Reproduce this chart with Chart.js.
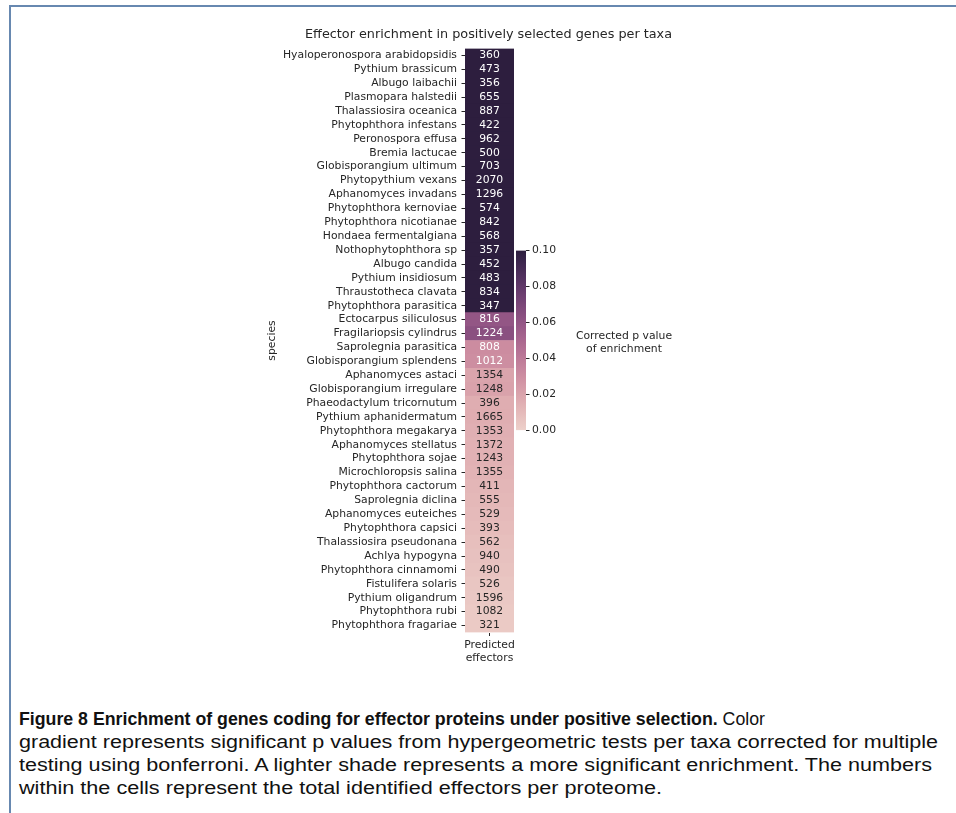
<!DOCTYPE html>
<html><head><meta charset="utf-8">
<script src="https://cdn.jsdelivr.net/npm/chart.js@4/dist/chart.umd.min.js"></script>
<style>
html,body{margin:0;padding:0;background:#fff;width:956px;height:813px;overflow:hidden;}
#frame{position:absolute;left:9px;top:5px;width:980px;height:840px;border-left:2px solid #6788b0;border-top:2px solid #6788b0;box-sizing:border-box;}
.cv{position:absolute;}
.cap{position:absolute;left:19px;font-family:"Liberation Sans",sans-serif;font-size:17.5px;line-height:23px;color:#111;white-space:nowrap;transform-origin:0 50%;}
</style></head><body>
<div id="frame"></div>
<canvas id="main" class="cv" width="956" height="690" style="left:0;top:0"></canvas>
<canvas id="cbar" class="cv" width="200" height="220" style="left:500px;top:230px"></canvas>
<div class="cap" data-w="746" style="top:708px"><b>Figure 8 Enrichment of genes coding for effector proteins under positive selection.</b> Color</div>
<div class="cap" data-w="919" style="top:731px">gradient represents significant p values from hypergeometric tests per taxa corrected for multiple</div>
<div class="cap" data-w="913" style="top:754px">testing using bonferroni. A lighter shade represents a more significant enrichment. The numbers</div>
<div class="cap" data-w="643" style="top:777px">within the cells represent the total identified effectors per proteome.</div>
<script>
const species = [
 "Hyaloperonospora arabidopsidis","Pythium brassicum","Albugo laibachii","Plasmopara halstedii",
 "Thalassiosira oceanica","Phytophthora infestans","Peronospora effusa","Bremia lactucae",
 "Globisporangium ultimum","Phytopythium vexans","Aphanomyces invadans","Phytophthora kernoviae",
 "Phytophthora nicotianae","Hondaea fermentalgiana","Nothophytophthora sp","Albugo candida",
 "Pythium insidiosum","Thraustotheca clavata","Phytophthora parasitica","Ectocarpus siliculosus",
 "Fragilariopsis cylindrus","Saprolegnia parasitica","Globisporangium splendens","Aphanomyces astaci",
 "Globisporangium irregulare","Phaeodactylum tricornutum","Pythium aphanidermatum","Phytophthora megakarya",
 "Aphanomyces stellatus","Phytophthora sojae","Microchloropsis salina","Phytophthora cactorum",
 "Saprolegnia diclina","Aphanomyces euteiches","Phytophthora capsici","Thalassiosira pseudonana",
 "Achlya hypogyna","Phytophthora cinnamomi","Fistulifera solaris","Pythium oligandrum",
 "Phytophthora rubi","Phytophthora fragariae"];
const effectorCounts = [360,473,356,655,887,422,962,500,703,2070,1296,574,842,568,357,452,483,834,347,
 816,1224,808,1012,1354,1248,396,1665,1353,1372,1243,1355,411,555,529,393,562,940,490,526,1596,1082,321];
const correctedP = [0.1,0.1,0.1,0.1,0.1,0.1,0.1,0.1,0.1,0.1,0.1,0.1,0.1,0.1,0.1,0.1,0.1,0.1,0.1,
 0.060,0.064,0.031,0.030,0.020,0.021,0.016,0.016,0.015,0.014,0.014,0.013,0.012,0.011,0.010,0.009,
 0.008,0.007,0.006,0.005,0.004,0.003,0.003];
const chartTitle = "Effector enrichment in positively selected genes per taxa";
const columnLabel = ["Predicted","effectors"];
const colorbarTicks = [0,0.02,0.04,0.06,0.08,0.10];
const colorbarLabel = ["Corrected p value","of enrichment"];
const VMAX = 0.10;
const TXT = '#262626';
const FONT = {family:'DejaVu Sans', size:10.8};

function cubehelix(x){
  const g=1, s=0, r=0.4, h=0.8;
  const xg = Math.pow(x,g), a = h*xg*(1-xg)/2, phi = 2*Math.PI*(s/3 + r*x);
  const f=(p0,p1)=>Math.max(0,Math.min(1, xg + a*(p0*Math.cos(phi)+p1*Math.sin(phi))));
  return [f(-0.14861,1.78277), f(-0.29227,-0.90649), f(1.97294,0)];
}
function cmap(v){ const t=Math.max(0,Math.min(1,v/VMAX)); return cubehelix(0.85 + (0.15-0.85)*t); }
function css(c){ return 'rgb('+c.map(v=>Math.round(v*255)).join(',')+')'; }
function lum(c){ const l=c.map(v=> v<=0.03928 ? v/12.92 : Math.pow((v+0.055)/1.055,2.4)); return 0.2126*l[0]+0.7152*l[1]+0.0722*l[2]; }

const annotPlugin = {
  id:'annot',
  afterDatasetsDraw(chart){
    const ctx=chart.ctx, meta=chart.getDatasetMeta(0);
    ctx.save();
    ctx.font = FONT.size+'px "DejaVu Sans"';
    ctx.textAlign='center'; ctx.textBaseline='middle';
    meta.data.forEach((el,i)=>{
      const c = cmap(correctedP[i]);
      ctx.fillStyle = lum(c) > 0.408 ? TXT : '#ffffff';
      ctx.fillText(String(effectorCounts[i]), (el.x+el.base)/2, el.y);
    });
    const ca = chart.chartArea;
    ctx.font = '12.8px "DejaVu Sans"'; ctx.fillStyle = TXT;
    ctx.fillText(chartTitle, (ca.left+ca.right)/2 - 1, 35);
    ctx.restore();
  }
};

new Chart(document.getElementById('main'), {
  type:'bar',
  data:{labels:species, datasets:[{data:species.map(()=>1),
    backgroundColor:correctedP.map(p=>css(cmap(p))), borderWidth:0, borderSkipped:false,
    barPercentage:1, categoryPercentage:1}]},
  options:{
    indexAxis:'y', responsive:false, animation:false, devicePixelRatio:1,
    layout:{padding:{left:265.7,right:442,top:48.5,bottom:17.5}},
    plugins:{legend:{display:false}, tooltip:{enabled:false}, title:{display:false}},
    scales:{
      x:{type:'linear', min:0, max:1,
        afterBuildTicks:s=>{s.ticks=[{value:0.5}];},
        ticks:{callback:()=>columnLabel, color:TXT, font:FONT, padding:3, maxRotation:0, autoSkip:false},
        grid:{drawOnChartArea:false, tickLength:3.5, color:TXT},
        border:{display:false},
        afterFit:s=>{s.height=40;}},
      y:{ticks:{autoSkip:false, color:TXT, font:FONT, padding:4.5},
        grid:{drawOnChartArea:false, tickLength:3.5, color:TXT, offset:false},
        border:{display:false},
        title:{display:true, text:'species', color:TXT, font:FONT, padding:0},
        afterFit:s=>{s.width=199.3;}}
    }
  },
  plugins:[annotPlugin]
});

const cbLabelPlugin = {
  id:'cblabel',
  afterDraw(chart){
    const ctx=chart.ctx; ctx.save();
    ctx.font = FONT.size+'px "DejaVu Sans"'; ctx.fillStyle=TXT;
    ctx.textAlign='center'; ctx.textBaseline='middle';
    ctx.fillText(colorbarLabel[0],124,106.5);
    ctx.fillText(colorbarLabel[1],124,119);
    ctx.restore();
  }
};

new Chart(document.getElementById('cbar'), {
  type:'bar',
  data:{labels:[''], datasets:[{data:[[0,VMAX]], borderWidth:0, borderSkipped:false,
    barPercentage:1, categoryPercentage:1,
    backgroundColor:(c)=>{
      const ca=c.chart.chartArea; if(!ca) return '#888';
      const g=c.chart.ctx.createLinearGradient(0,ca.bottom,0,ca.top);
      for(let i=0;i<=40;i++){ g.addColorStop(i/40, css(cmap(i/40*VMAX))); }
      return g;
    }}]},
  options:{
    responsive:false, animation:false, devicePixelRatio:1,
    layout:{padding:{left:16,right:124,top:20.5,bottom:19.5}},
    plugins:{legend:{display:false}, tooltip:{enabled:false}},
    scales:{
      x:{display:false},
      y:{position:'right', min:0, max:VMAX,
        afterBuildTicks:s=>{s.ticks=colorbarTicks.map(v=>({value:v}));},
        ticks:{callback:v=>Number(v).toFixed(2), color:TXT, font:FONT, padding:2.5},
        grid:{drawOnChartArea:false, tickLength:3.5, color:TXT},
        border:{display:false},
        afterFit:s=>{s.width=50;}}
    }
  },
  plugins:[cbLabelPlugin]
});

document.querySelectorAll('.cap').forEach(el=>{
  const w=parseFloat(el.dataset.w), cur=el.getBoundingClientRect().width;
  el.style.transform='scaleX('+(w/cur)+')';
});
</script>
</body></html>
